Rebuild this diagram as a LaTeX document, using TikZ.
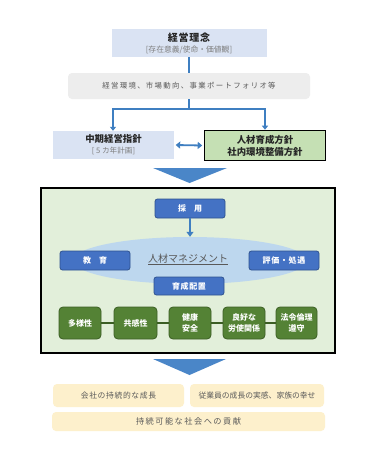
\documentclass[tikz,border=0pt]{standalone}
\usepackage{fontspec}
\setmainfont{Noto Sans CJK JP}
\newfontfamily\jpsp[LetterSpace=18]{Noto Sans CJK JP}
\newfontfamily\jpspb[LetterSpace=8]{Noto Sans CJK JP}
\usetikzlibrary{arrows.meta,shapes.geometric}
\definecolor{lbox}{HTML}{DAE3F3}
\definecolor{gbox}{HTML}{EDEDED}
\definecolor{lgreen}{HTML}{C5E0B4}
\definecolor{bggreen}{HTML}{E2EFDA}
\definecolor{bluebox}{HTML}{4472C4}
\definecolor{blueline}{HTML}{2F528F}
\definecolor{ellc}{HTML}{BDD7EE}
\definecolor{dgreen}{HTML}{548235}
\definecolor{dgline}{HTML}{3B5E24}
\definecolor{orbox}{HTML}{FDF0CC}
\definecolor{conn}{HTML}{3F7FC1}
\definecolor{chev}{HTML}{4A86C8}
\definecolor{txtd}{HTML}{262626}
\definecolor{txtg}{HTML}{7F7F7F}
\definecolor{txtm}{HTML}{595959}
\tikzset{
  lbluebox/.style={fill=lbox, draw=none, inner sep=0pt, align=center},
  bluelbl/.style={fill=bluebox, draw=blueline, line width=0.8pt, rounded corners=2.5pt, text=white, font=\jpspb\fontsize{8}{10}\selectfont\bfseries, inner sep=0pt},
  greenlbl/.style={fill=dgreen, draw=dgline, line width=0.8pt, rounded corners=4pt, text=white, font=\fontsize{8}{10.5}\selectfont\bfseries, inner sep=0pt, align=center},
  orlbl/.style={fill=orbox, draw=none, rounded corners=4pt, text=txtm, inner sep=0pt},
  connector/.style={draw=conn, line width=1.8pt},
  tip/.style={-{Triangle[length=4pt,width=6pt]}},
}
\begin{document}
\begin{tikzpicture}[x=1pt,y=-1pt]
\useasboundingbox (0,0) rectangle (376,461);
\fill[white] (0,0) rectangle (376,461);

% top box
\node[lbluebox, minimum width=155pt, minimum height=28pt] (rinen) at (189,43)
  {{\jpspb\fontsize{10}{12}\selectfont\bfseries\color{txtd}経営理念}\\[-1pt]{\fontsize{7.8}{9}\selectfont\color{txtg}[存在意義/使命・価値観]}};

% grey box
\node[fill=gbox, rounded corners=4pt, minimum width=242pt, minimum height=26pt, inner sep=0pt,
  font=\jpsp\fontsize{7.4}{9}\selectfont, text=txtm] (env) at (189,86) {経営環境、市場動向、事業ポートフォリオ等};

% mid boxes
\node[lbluebox, minimum width=121pt, minimum height=28pt] (chuki) at (113.5,145)
  {{\fontsize{9.4}{11}\selectfont\bfseries\color{txtd}中期経営指針}\\[-1pt]{\fontsize{7.6}{9}\selectfont\color{txtg}[ 5 カ年計画]}};
\node[fill=lgreen, draw=black, line width=1.6pt, minimum width=121pt, minimum height=30pt, inner sep=0pt, align=center,
  font=\fontsize{9.4}{12}\selectfont\bfseries, text=txtd] (jinzai) at (265,145.5)
  {人材育成方針\\社内環境整備方針};

\draw[connector] (rinen.south) -- (env.north);
\coordinate (split) at (189,109);
\draw[connector] (env.south) -- (split);
\draw[connector, tip] (split) -| ([xshift=-0.5pt]chuki.north);
\draw[connector, tip] (split) -| (jinzai.north);
\draw[connector, {Triangle[length=4.5pt,width=7pt]}-{Triangle[length=4.5pt,width=7pt]}] ([xshift=1.5pt]chuki.east) -- ([xshift=-1.5pt]jinzai.west);

% chevron 1
\fill[chev] (153,168) -- (227,168) -- (189.5,183) -- cycle;

% big box
\node[fill=bggreen, draw=black, line width=1.6pt, minimum width=294pt, minimum height=165pt, inner sep=0pt] (big) at (188,270.5) {};

% ellipse
\node[ellipse, fill=ellc, minimum width=234pt, minimum height=47pt, inner sep=0pt] (ell) at (190,260.5) {};
\node[text=txtm, font=\fontsize{10}{12}\selectfont] (jm) at (188,259.5) {\underline{人材マネジメント}};

\node[bluelbl, minimum width=70pt, minimum height=19pt] (saiyo) at (190,208.5) {採\hspace{1em}用};
\node[bluelbl, minimum width=70pt, minimum height=19pt] (kyoiku) at (95,260.5) {教\hspace{1em}育};
\node[bluelbl, minimum width=70pt, minimum height=19pt] (hyoka) at (284,260.5) {評価・処遇};
\node[bluelbl, minimum width=70pt, minimum height=18pt] (haichi) at (189,286) {育成配置};
\draw[draw=conn, line width=1.8pt, -{Triangle[length=5pt,width=7pt]}] (saiyo.south) -- (ell.north);

% green row
\node[greenlbl, minimum width=42pt, minimum height=32pt] (g1) at (80,323) {多様性};
\node[greenlbl, minimum width=43pt, minimum height=32pt] (g2) at (135.5,323) {共感性};
\node[greenlbl, minimum width=42pt, minimum height=32pt] (g3) at (190,323) {健康\\安全};
\node[greenlbl, minimum width=42pt, minimum height=32pt] (g4) at (244,323) {良好な\\労使関係};
\node[greenlbl, minimum width=41pt, minimum height=32pt] (g5) at (296.5,323) {法令倫理\\遵守};
\draw[dgline, line width=1.8pt] (g1) -- (g2);
\draw[dgline, line width=1.8pt] (g2) -- (g3);
\draw[dgline, line width=1.8pt] (g3) -- (g4);
\draw[dgline, line width=1.8pt] (g4) -- (g5);

% chevron 2
\fill[chev] (153,359) -- (226,359) -- (189.5,375) -- cycle;

% outcomes
\node[orlbl, minimum width=131pt, minimum height=23pt, font=\jpspb\fontsize{7.8}{9}\selectfont] (o1) at (118.5,395.5) {会社の持続的な成長};
\node[orlbl, minimum width=134pt, minimum height=23pt, font=\fontsize{7.8}{9}\selectfont] (o2) at (257,395.5) {従業員の成長の実感、家族の幸せ};
\node[orlbl, minimum width=273pt, minimum height=19pt, font=\jpsp\fontsize{8.2}{9}\selectfont] (o3) at (188.5,421.5) {持続可能な社会への貢献};
\end{tikzpicture}
\end{document}
